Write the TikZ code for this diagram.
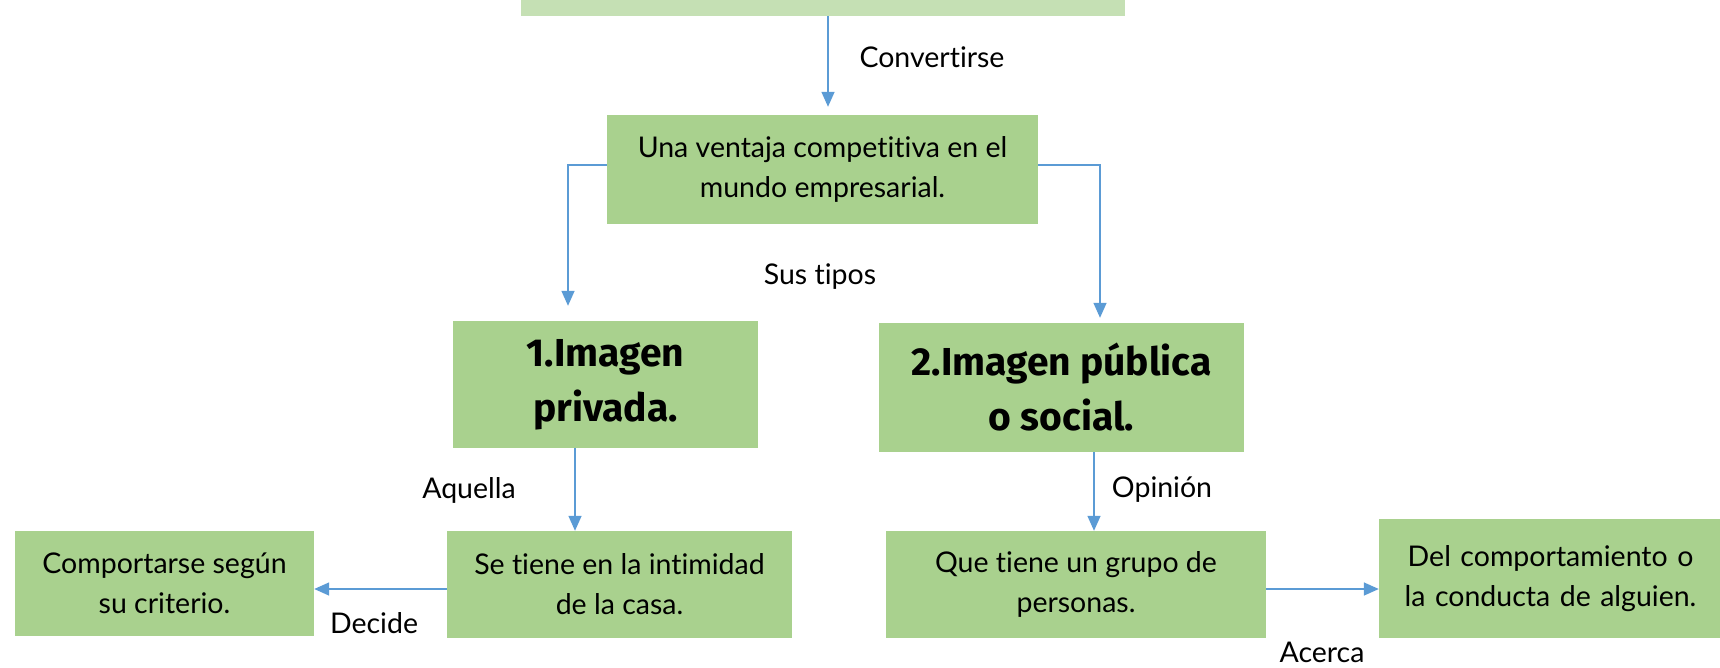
\documentclass[tikz,border=0pt]{standalone}
\usepackage{fontspec}
\setmainfont{Lato}[Ligatures=NoCommon]
\newfontfamily\boldfam{Fira Sans}[Ligatures=NoCommon]
\usetikzlibrary{arrows.meta}
\definecolor{boxgreen}{HTML}{A9D18E}
\definecolor{topgreen}{HTML}{C5E0B4}
\definecolor{arrblue}{HTML}{5B9BD5}
\tikzset{
  gbox/.style={fill=boxgreen, draw=none, inner sep=0pt, align=center,
    font=\fontsize{28.5}{40}\selectfont},
  bbox/.style={fill=boxgreen, draw=none, inner sep=0pt, align=center,
    font=\boldfam\bfseries\fontsize{39}{55}\selectfont},
  arr/.style={draw=arrblue, line width=1.5pt, -{Triangle[width=13pt,length=15pt]}},
  lbl/.style={font=\fontsize{28.5}{32}\selectfont, inner sep=0pt}
}
\begin{document}
\begin{tikzpicture}[x=1pt,y=-1pt]
\useasboundingbox (0,0) rectangle (1720,667);
\node[fill=topgreen, inner sep=0pt, minimum width=604pt, minimum height=40pt] (top) at (823,-4) {};
\node[gbox, minimum width=431pt, minimum height=109pt] (A) at (822.5,169.5) {Una ventaja competitiva en el\\mundo empresarial.};
\node[bbox, minimum width=305pt, minimum height=127pt] (B) at (605.5,384.5) {1.Imagen\\privada.};
\node[bbox, minimum width=365pt, minimum height=129pt] (C) at (1061.5,387.5) {2.Imagen pública\\o social.};
\node[gbox, minimum width=345pt, minimum height=107pt] (D) at (619.5,584.5) {Se tiene en la intimidad\\de la casa.};
\node[gbox, minimum width=299pt, minimum height=105pt] (E) at (164.5,583.5) {Comportarse según\\su criterio.};
\node[gbox, minimum width=380pt, minimum height=107pt] (F) at (1076,584.5) {Que tiene un grupo de\\personas.};
\node[gbox, minimum width=343pt, minimum height=119pt, text width=340pt] (G) at (1550.5,578.5) {Del comportamiento o\\la conducta de alguien.\\[8pt]};
% connectors
\draw[arr] ([xshift=5pt]top.south) -- ([xshift=5.5pt,yshift=8pt]A.north);
\draw[arr] ([yshift=4.5pt]A.west) -| ([xshift=-37.5pt,yshift=15pt]B.north);
\draw[arr] ([yshift=4.5pt]A.east) -| ([xshift=38.5pt,yshift=5pt]C.north);
\draw[arr] ([xshift=-30.5pt]B.south) -- ([xshift=-44.5pt]D.north);
\draw[arr] ([xshift=32.5pt]C.south) -- ([xshift=18pt]F.north);
\coordinate (dstart) at ([yshift=-4.5pt]D.west);
\draw[arr] (dstart) -- (dstart -| E.east);
\coordinate (fstart) at ([yshift=-4.5pt]F.east);
\draw[arr] (fstart) -- (fstart -| G.west);
% labels
\node[lbl] (l1) at (932,57) {Convertirse};
\node[lbl] (l2) at (820,277) {Sus tipos};
\node[lbl] (l3) at (469,490) {Aquella};
\node[lbl] (l4) at (1162,490) {Opinión};
\node[lbl] (l5) at (374,623) {Decide};
\node[lbl] (l6) at (1322,652) {Acerca};
\end{tikzpicture}
\end{document}
